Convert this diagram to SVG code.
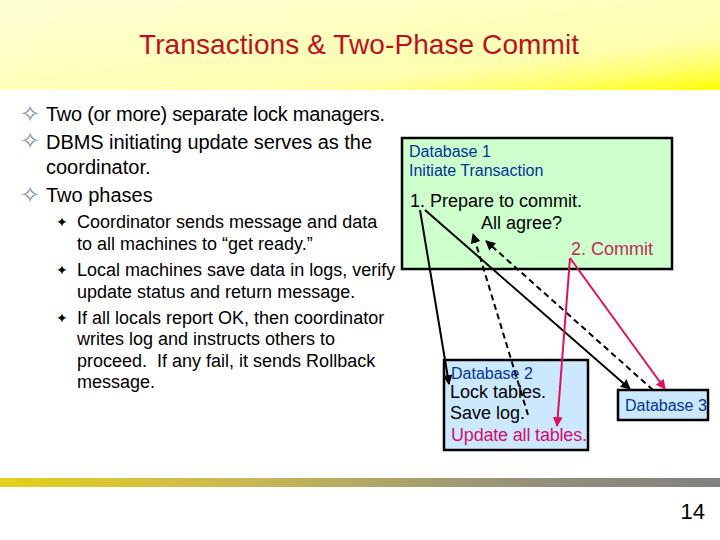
<svg xmlns="http://www.w3.org/2000/svg" width="720" height="540" viewBox="0 0 720 540">
<style>
text{font-family:"Liberation Sans",Arial,sans-serif;white-space:pre}
.b{font-size:20px;fill:#000}
.s{font-size:18px;fill:#000}
.sym{font-family:"DejaVu Sans",sans-serif}
.db{font-size:16px;fill:#003399}
.t{font-size:18px;fill:#000}
.box{stroke:#000;stroke-width:2.5}
.k{stroke:#000;stroke-width:2;fill:none}
.d{stroke-dasharray:6 4}
.p{stroke:#e0105f;stroke-width:2;fill:none}
</style>
<defs>
<linearGradient id="hd" x1="0" y1="0" x2="1" y2="1">
<stop offset="0" stop-color="#ffffd6"/><stop offset="0.7" stop-color="#ffffb0"/><stop offset="0.85" stop-color="#ffff70"/><stop offset="1" stop-color="#ffff00"/>
</linearGradient>
<linearGradient id="bar" x1="0" y1="0" x2="1" y2="0">
<stop offset="0" stop-color="#e6cf1c"/><stop offset="0.35" stop-color="#c9b755"/><stop offset="0.7" stop-color="#999378"/><stop offset="1" stop-color="#808080"/>
</linearGradient>
<marker id="ak" markerWidth="5" markerHeight="5" refX="4.5" refY="2.5" orient="auto"><path d="M0 0L5 2.500L0 5z" fill="#000"/></marker>
<marker id="ap" markerWidth="5" markerHeight="5" refX="4.5" refY="2.500" orient="auto"><path d="M0 0L5 2.500L0 5z" fill="#e0105f"/></marker>
</defs>
<rect width="720" height="540" fill="#fff"/>
<rect id="header" width="720" height="90" fill="url(#hd)"/>
<rect id="footer-bar" y="478" width="720" height="9" fill="url(#bar)"/>
<text x="139" y="54" font-size="28" textLength="440" fill="#c01020">Transactions &amp; Two-Phase Commit</text>
<g id="bullets">
<text class="sym" x="20" y="122" font-size="24" fill="#7f8fa8">✧</text>
<text class="sym" x="20" y="149" font-size="24" fill="#7f8fa8">✧</text>
<text class="sym" x="20" y="203" font-size="24" fill="#7f8fa8">✧</text>
<text class="b" x="46" y="121" textLength="339">Two (or more) separate lock managers.</text>
<text class="b" x="46" y="149" textLength="326">DBMS initiating update serves as the</text>
<text class="b" x="46" y="174">coordinator.</text>
<text class="b" x="46" y="202">Two phases</text>
<text class="sym" x="56" y="227" font-size="14">✦</text>
<text class="sym" x="56" y="275" font-size="14">✦</text>
<text class="sym" x="56" y="323" font-size="14">✦</text>
<text class="s" x="77" y="228">Coordinator sends message and data</text>
<text class="s" x="77" y="250">to all machines to “get ready.”</text>
<text class="s" x="77" y="276">Local machines save data in logs, verify</text>
<text class="s" x="77" y="298">update status and return message.</text>
<text class="s" x="77" y="324">If all locals report OK, then coordinator</text>
<text class="s" x="77" y="345">writes log and instructs others to</text>
<text class="s" x="77" y="367">proceed.  If any fail, it sends Rollback</text>
<text class="s" x="77" y="388">message.</text>
</g>
<g id="db1">
<rect class="box" x="402" y="138" width="270" height="131" fill="#ccffcc"/>
<text class="db" x="409" y="157">Database 1</text>
<text class="db" x="409" y="176">Initiate Transaction</text>
<text class="t" x="410" y="207">1. Prepare to commit.</text>
<text class="t" x="481" y="229">All agree?</text>
<text class="t" x="571" y="255" style="fill:#c22a5a">2. Commit</text>
</g>
<g id="db2">
<rect class="box" x="444" y="360" width="144" height="90" fill="#cce8ff"/>
<text class="db" x="451" y="379">Database 2</text>
<text class="t" x="450" y="398">Lock tables.</text>
<text class="t" x="450" y="419">Save log.</text>
<text class="t" x="451" y="441" textLength="136" style="fill:#d0106a">Update all tables.</text>
</g>
<g id="db3">
<rect class="box" x="618" y="390" width="90" height="30" fill="#cce8ff"/>
<text class="db" x="625" y="411">Database 3</text>
</g>
<g id="connectors">
<line class="k" x1="420" y1="210" x2="449" y2="384" marker-end="url(#ak)"/>
<line class="k" x1="425" y1="210" x2="630" y2="389" marker-end="url(#ak)"/>
<line class="k d" x1="528" y1="415" x2="473" y2="234" marker-end="url(#ak)"/>
<line class="k d" x1="653" y1="390" x2="486" y2="241" marker-end="url(#ak)"/>
<line class="p" x1="570" y1="258" x2="557" y2="426" marker-end="url(#ap)"/>
<line class="p" x1="570" y1="258" x2="665" y2="389" marker-end="url(#ap)"/>
</g>
<text x="705" y="519" text-anchor="end" font-size="22" fill="#000">14</text>
</svg>
